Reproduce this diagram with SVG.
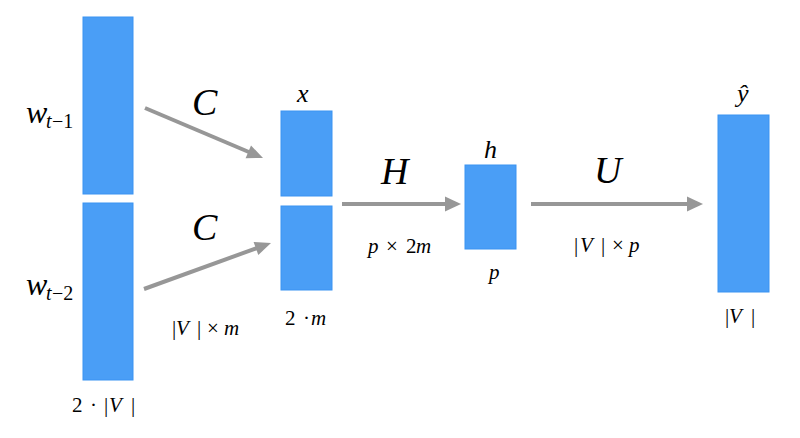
<svg xmlns="http://www.w3.org/2000/svg" width="800" height="438" viewBox="0 0 800 438">
<defs>
<style>
.blk{fill:#4a9ef6;stroke:#3b93f2;stroke-width:1}
.ln{stroke:#979797;stroke-width:4;fill:none}
.hd{fill:#979797}
</style>
</defs>
<rect width="800" height="438" fill="#ffffff"/>
<g id="connectors">
<line class="ln" x1="145" y1="108" x2="250" y2="152.5"/>
<polygon class="hd" points="263,158 245.6,158.2 251,145.4"/>
<line class="ln" x1="144" y1="289" x2="257" y2="248"/>
<polygon class="hd" points="271,243 258.3,255 253.6,241.9"/>
<line class="ln" x1="342" y1="204" x2="448" y2="204"/>
<polygon class="hd" points="461,204 445,196.5 445,211.5"/>
<line class="ln" x1="531" y1="204" x2="690" y2="204"/>
<polygon class="hd" points="703,204 687,196.5 687,211.5"/>
</g>
<text x="192" y="115" font-size="38" font-family="Liberation Serif" font-style="italic">C</text>
<text x="192" y="240" font-size="38" font-family="Liberation Serif" font-style="italic">C</text>
<text x="381" y="184" font-size="38" font-family="Liberation Serif" font-style="italic">H</text>
<text x="594" y="183" font-size="38" font-family="Liberation Serif" font-style="italic">U</text>
<text x="172" y="335" font-size="21" font-family="Liberation Serif">|</text>
<text x="176" y="335" font-size="21" font-family="Liberation Serif" font-style="italic">V</text>
<text x="197" y="335" font-size="21" font-family="Liberation Serif">|</text>
<text x="207" y="335" font-size="21" font-family="Liberation Serif">&#215;</text>
<text x="224" y="335" font-size="21" font-family="Liberation Serif" font-style="italic">m</text>
<text x="368" y="253" font-size="21" font-family="Liberation Serif" font-style="italic">p</text>
<text x="386" y="253" font-size="21" font-family="Liberation Serif">&#215;</text>
<text x="406" y="253" font-size="21" font-family="Liberation Serif">2</text>
<text x="416" y="253" font-size="21" font-family="Liberation Serif" font-style="italic">m</text>
<text x="574" y="252" font-size="21" font-family="Liberation Serif">|</text>
<text x="580" y="252" font-size="21" font-family="Liberation Serif" font-style="italic">V</text>
<text x="601" y="252" font-size="21" font-family="Liberation Serif">|</text>
<text x="612" y="252" font-size="21" font-family="Liberation Serif">&#215;</text>
<text x="629" y="252" font-size="21" font-family="Liberation Serif" font-style="italic">p</text>
<g id="w1">
<rect class="blk" x="83" y="17" width="50" height="177"/>
<text x="26" y="123" font-size="32" font-family="Liberation Serif" font-style="italic">w</text>
<text x="46" y="128" font-size="20" font-family="Liberation Serif" font-style="italic">t</text>
<text x="52" y="128" font-size="20" font-family="Liberation Serif">&#8722;1</text>
</g>
<g id="w2">
<rect class="blk" x="83" y="203" width="50" height="177"/>
<text x="26" y="295" font-size="32" font-family="Liberation Serif" font-style="italic">w</text>
<text x="46" y="300" font-size="20" font-family="Liberation Serif" font-style="italic">t</text>
<text x="52" y="300" font-size="20" font-family="Liberation Serif">&#8722;2</text>
<text x="72" y="412" font-size="21" font-family="Liberation Serif">2</text>
<text x="90" y="412" font-size="21" font-family="Liberation Serif">&#183;</text>
<text x="104" y="412" font-size="21" font-family="Liberation Serif">|</text>
<text x="109" y="412" font-size="21" font-family="Liberation Serif" font-style="italic">V</text>
<text x="131" y="412" font-size="21" font-family="Liberation Serif">|</text>
</g>
<g id="x">
<rect class="blk" x="281" y="111" width="51" height="85"/>
<rect class="blk" x="281" y="206" width="51" height="84"/>
<text x="297" y="102" font-size="26" font-family="Liberation Serif" font-style="italic">x</text>
<text x="285" y="325" font-size="21" font-family="Liberation Serif">2</text>
<text x="303" y="325" font-size="21" font-family="Liberation Serif">&#183;</text>
<text x="311" y="325" font-size="21" font-family="Liberation Serif" font-style="italic">m</text>
</g>
<g id="h">
<rect class="blk" x="465" y="165" width="51" height="84"/>
<text x="484" y="158" font-size="26" font-family="Liberation Serif" font-style="italic">h</text>
<text x="489" y="279" font-size="21" font-family="Liberation Serif" font-style="italic">p</text>
</g>
<g id="yhat">
<rect class="blk" x="718" y="115" width="51" height="177"/>
<text x="737" y="102" font-size="26" font-family="Liberation Serif" font-style="italic">&#375;</text>
<text x="725" y="323" font-size="21" font-family="Liberation Serif">|</text>
<text x="729" y="323" font-size="21" font-family="Liberation Serif" font-style="italic">V</text>
<text x="751" y="323" font-size="21" font-family="Liberation Serif">|</text>
</g>
</svg>
